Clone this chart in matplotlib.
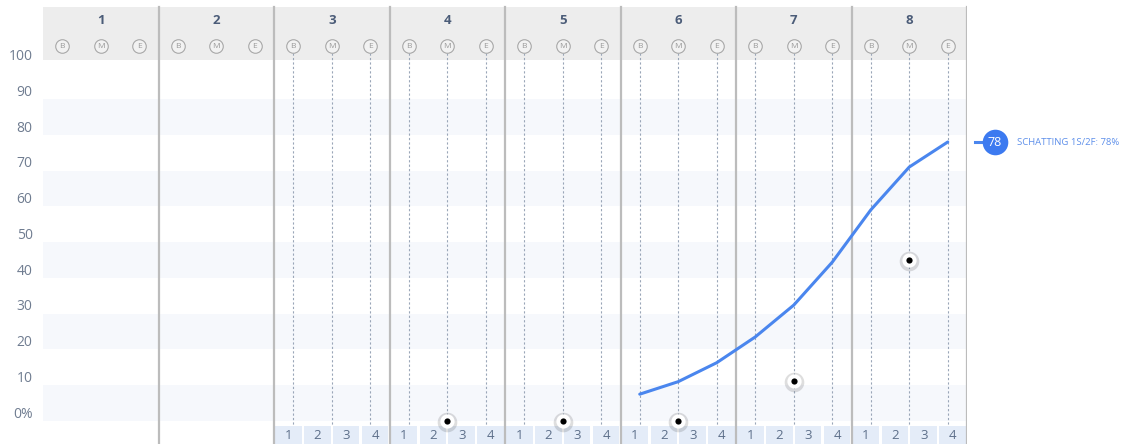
import numpy as np
import matplotlib
matplotlib.use("Agg")
import matplotlib.pyplot as plt
from matplotlib.patches import Rectangle

plt.rcParams["font.family"] = ["Open Sans", "DejaVu Sans"]

# data
groups = ["1", "2", "3", "4", "5", "6", "7", "8"]
stages = ["B", "M", "E"]
quarter_labels = ["1", "2", "3", "4"]
y_ticks = [0, 10, 20, 30, 40, 50, 60, 70, 80, 90, 100]
y_labels = ["0%", "10", "20", "30", "40", "50", "60", "70", "80", "90", "100"]

# estimate curve, at B/M/E of groups 6..8
line_groups = [6, 6, 6, 7, 7, 7, 8, 8, 8]
line_stages = ["B", "M", "E", "B", "M", "E", "B", "M", "E"]
line_values = [7.5, 11, 16.3, 23.5, 32.4, 44.4, 59, 71, 78]

# measured results, at M of groups 4..8
point_groups = [4, 5, 6, 7, 8]
point_values = [0, 0, 0, 11.2, 45]

estimate_label = "SCHATTING 1S/2F: {}%"

first_detail_group = 3   # dashed lines + quarter cells from this group on

stage_offset = {"B": 1 / 6, "M": 0.5, "E": 5 / 6}

BLUE = "#4a86ee"
GREY_TXT = "#6f7c90"
HEAD_TXT = "#4b5c78"


def xpos(g, s):
    return g - 1 + stage_offset[s]


def main():
    fig = plt.figure(figsize=(11.32, 4.44), dpi=100)
    ax = fig.add_axes([43 / 1132, 0, 924 / 1132, 1])
    ng = len(groups)
    bottom = -6.43
    ax.set_xlim(0, ng)
    ax.set_ylim(bottom, 117.7)
    ax.axis("off")

    head_top = 115.7
    head_bot = 100.9

    # alternating bands
    for lo in range(0, 100, 20):
        ax.add_patch(Rectangle((0, lo), ng, 10, color="#f6f8fc", lw=0, zorder=0))

    # header
    ax.add_patch(Rectangle((0, head_bot), ng, head_top - head_bot, color="#ededed",
                           lw=0, zorder=1))

    for i, g in enumerate(groups):
        gi = i + 1
        ax.text(gi - 0.5, 112, g, ha="center", va="center", fontsize=9.5,
                fontweight="bold", color=HEAD_TXT, zorder=5)
        for s in stages:
            x = xpos(gi, s)
            ax.scatter([x], [104.8], s=95, facecolor="#f2f2f2", edgecolor="#a8a8a8",
                       linewidth=0.8, zorder=5)
            ax.text(x, 104.7, s, ha="center", va="center", fontsize=6,
                    color="#9a9a9a", zorder=6)
            if gi >= first_detail_group:
                ax.plot([x, x], [103, -1.4], color="#9aa6b8", lw=0.8,
                        ls=(0, (2, 2)), zorder=2)
        if gi >= first_detail_group:
            for q, lab in enumerate(quarter_labels):
                x0 = gi - 1 + q * 0.25
                ax.add_patch(Rectangle((x0 + 0.01, bottom), 0.23, -1.4 - bottom,
                                       color="#e4ecf8", lw=0, zorder=1))
                ax.text(x0 + 0.125, (bottom - 1.4) / 2, lab, ha="center", va="center",
                        fontsize=9.5, color="#5d6f8a", zorder=3)

    # group separators
    for gi in range(1, ng + 1):
        ax.plot([gi, gi], [bottom, head_top], color="#bcbcbc", lw=1.6, zorder=3)

    # y labels
    for v, lab in zip(y_ticks, y_labels):
        ax.text(-0.09, v + 1.9, lab, ha="right", va="center", fontsize=10,
                color=GREY_TXT, clip_on=False)

    # estimate line
    lx = [xpos(g, s) for g, s in zip(line_groups, line_stages)]
    ax.plot(lx, line_values, color=BLUE, lw=2.2, solid_capstyle="round", zorder=6)

    # measured points
    px = [xpos(g, "M") for g in point_groups]
    ax.scatter(px, np.array(point_values) - 0.4, s=200, color="#000000", alpha=0.13,
               lw=0, zorder=7)
    ax.scatter(px, point_values, s=105, color="white", lw=0, zorder=8)
    ax.scatter(px, point_values, s=20, color="black", lw=0, zorder=9)

    # right-hand label
    last = line_values[-1]
    ax.plot([ng + 0.07, ng + 0.16], [last, last], color=BLUE, lw=2.2,
            clip_on=False, zorder=6)
    ax.scatter([ng + 0.24], [last], s=340, color="#3c7af0", lw=0, clip_on=False, zorder=7)
    ax.text(ng + 0.24, last, str(int(last)), ha="center", va="center", fontsize=9,
            color="white", clip_on=False, zorder=8)
    ax.text(ng + 0.43, last, estimate_label.format(int(last)), ha="left", va="center",
            fontsize=6.8, color="#5d8fea", clip_on=False)

    fig.savefig("out.png", dpi=100)


if __name__ == "__main__":
    main()
